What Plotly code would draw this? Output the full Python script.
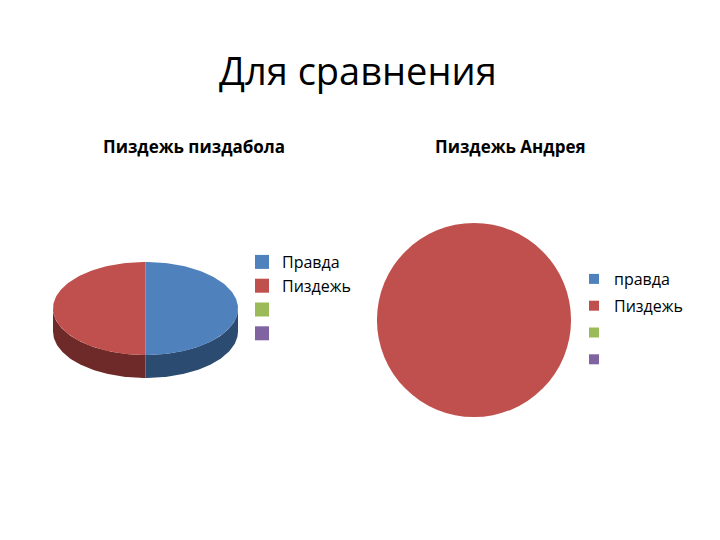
import numpy as np
import plotly.graph_objects as go

title_text = "Для сравнения"
left_title = "Пиздежь пиздабола"
right_title = "Пиздежь Андрея"
left_labels = ["Правда", "Пиздежь", " ", "  "]
left_values = [50, 50, 0, 0]
right_labels = ["правда", "Пиздежь", " ", "  "]
right_values = [0, 100, 0, 0]
colors = ["#4F81BD", "#C0504D", "#9BBB59", "#8064A2"]
side_colors = ["#2B4B70", "#6E2A28", "#5F7530", "#4D3B62"]

W, H = 720, 540
FONT = "Open Sans"
# geometry of the tilted (3D-look) left pie, in pixel space
cx, cy, rx, ry, depth = 145.5, 308.5, 92.5, 46.5, 23

fig = go.Figure()

total = float(sum(left_values))
bounds = np.cumsum([0] + left_values) / total * 2 * np.pi


def ell(t, dy=0.0):
    return cx + rx * np.sin(t), cy - ry * np.cos(t) + dy


# side walls (front half only)
for i, v in enumerate(left_values):
    if v <= 0:
        continue
    a, b = bounds[i], bounds[i + 1]
    lo, hi = max(a, np.pi / 2), min(b, 3 * np.pi / 2)
    if lo >= hi:
        continue
    ts = np.linspace(lo, hi, 80)
    xt, yt = ell(ts)
    xb, yb = ell(ts[::-1], depth)
    fig.add_trace(go.Scatter(
        x=np.concatenate([xt, xb, xt[:1]]), y=np.concatenate([yt, yb, yt[:1]]),
        mode="lines", fill="toself", fillcolor=side_colors[i],
        line=dict(width=0, color=side_colors[i]), showlegend=False, hoverinfo="skip"))

# top faces
for i, v in enumerate(left_values):
    if v <= 0:
        continue
    ts = np.linspace(bounds[i], bounds[i + 1], 120)
    xt, yt = ell(ts)
    fig.add_trace(go.Scatter(
        x=np.concatenate([[cx], xt, [cx]]), y=np.concatenate([[cy], yt, [cy]]),
        mode="lines", fill="toself", fillcolor=colors[i],
        line=dict(width=0, color=colors[i]), showlegend=False,
        name=left_labels[i], hoverinfo="name"))

# left legend entries
for i, lab in enumerate(left_labels):
    fig.add_trace(go.Scatter(
        x=[None], y=[None], mode="markers", name=lab, legend="legend",
        legendgroup="L%d" % i,
        marker=dict(symbol="square", size=14, color=colors[i])))

# right pie (data) and its legend entries
fig.add_trace(go.Pie(
    labels=right_labels, values=right_values, sort=False, direction="clockwise",
    marker=dict(colors=colors, line=dict(width=0)), textinfo="none",
    domain=dict(x=[377 / W, 571 / W], y=[1 - 417 / H, 1 - 223 / H]),
    showlegend=False))
for i, lab in enumerate(right_labels):
    fig.add_trace(go.Scatter(
        x=[None], y=[None], mode="markers", name=lab, legend="legend2",
        legendgroup="R%d" % i,
        marker=dict(symbol="square", size=10, color=colors[i])))

fig.update_layout(
    width=W, height=H, margin=dict(l=0, r=0, t=0, b=0),
    paper_bgcolor="white", plot_bgcolor="white",
    xaxis=dict(range=[0, W], visible=False, domain=[0, 1], fixedrange=True),
    yaxis=dict(range=[H, 0], visible=False, domain=[0, 1], fixedrange=True),
    font=dict(family=FONT, color="black"),
    legend=dict(x=242 / W, y=1 - 245 / H, xanchor="left", yanchor="top",
                bgcolor="rgba(0,0,0,0)", font=dict(size=16, family=FONT),
                traceorder="grouped", tracegroupgap=0, itemwidth=30),
    legend2=dict(x=574 / W, y=1 - 262 / H, xanchor="left", yanchor="top",
                 bgcolor="rgba(0,0,0,0)", font=dict(size=16, family=FONT),
                 traceorder="grouped", tracegroupgap=3, itemwidth=30),
    annotations=[
        dict(text=title_text, x=358 / W, y=1 - 70 / H, xref="paper", yref="paper",
             xanchor="center", yanchor="middle", showarrow=False,
             font=dict(size=38, family=FONT, color="black")),
        dict(text="<b>" + left_title + "</b>", x=194 / W, y=1 - 147 / H, xref="paper",
             yref="paper", xanchor="center", yanchor="middle", showarrow=False,
             font=dict(size=17, family=FONT, color="black")),
        dict(text="<b>" + right_title + "</b>", x=510 / W, y=1 - 147 / H, xref="paper",
             yref="paper", xanchor="center", yanchor="middle", showarrow=False,
             font=dict(size=17, family=FONT, color="black")),
    ],
)

fig.write_html("out.html", config={"displayModeBar": False},
               post_script="document.body.style.margin='0';")
